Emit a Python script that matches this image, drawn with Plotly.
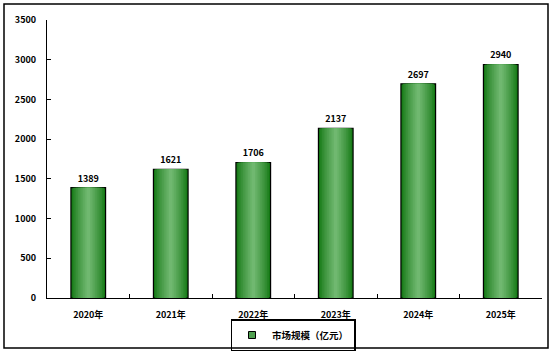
import plotly.graph_objects as go

categories = ["2020年", "2021年", "2022年", "2023年", "2024年", "2025年"]
values = [1389, 1621, 1706, 2137, 2697, 2940]
series_name = "市场规模（亿元）"
y_ticks = [0, 500, 1000, 1500, 2000, 2500, 3000, 3500]

FONT = "Noto Sans CJK SC"
W, H = 554, 354
ML, MR, MT, MB = 47, 12, 20, 56

fig = go.Figure()

full_w = 0.42
layers = 10
dark = (20, 120, 20)
light = (112, 184, 112)
for i in range(layers):
    t = i / (layers - 1)
    c = tuple(int(dark[k] + (light[k] - dark[k]) * (t ** 0.8)) for k in range(3))
    w = full_w * (1 - i / layers)
    outer = i == 0
    fig.add_trace(go.Bar(
        x=categories, y=values, width=w,
        marker=dict(color="rgb(%d,%d,%d)" % c,
                    line=dict(color="black", width=1.2 if outer else 0)),
        name=series_name, showlegend=False,
        text=[str(v) for v in values] if outer else None,
        textposition="outside" if outer else "none",
        textfont=dict(family=FONT, size=9, color="black", weight="bold"),
        cliponaxis=False, hoverinfo="skip",
    ))

fig.add_trace(go.Scatter(
    x=[categories[0]], y=[None], mode="markers", name=series_name,
    marker=dict(symbol="square", size=7, color="rgb(80,160,80)",
                line=dict(color="black", width=1)),
    showlegend=True, hoverinfo="skip",
))

bold9 = dict(family=FONT, size=9, color="black", weight="bold")
fig.update_layout(
    width=W, height=H,
    margin=dict(l=ML, r=MR, t=MT, b=MB, autoexpand=False),
    paper_bgcolor="white", plot_bgcolor="white",
    barmode="overlay",
    font=dict(family=FONT, size=9, color="black"),
    showlegend=True,
    legend=dict(orientation="h", x=0.497, xanchor="center",
                yref="container", y=1 - 335 / H, yanchor="middle",
                bordercolor="black", borderwidth=1.5, bgcolor="rgba(0,0,0,0)",
                font=dict(family=FONT, size=9.5, color="black", weight="bold"),
                itemwidth=30, tracegroupgap=0),
    xaxis=dict(showline=True, linecolor="black", linewidth=1.2,
               ticks="inside", ticklen=4, tickcolor="black", tickson="boundaries",
               tickfont=bold9, showgrid=False, zeroline=False, ticklabelstandoff=8),
    yaxis=dict(range=[0, 3500], tickvals=y_ticks, showline=True, linecolor="black",
               linewidth=1.2, ticks="inside", ticklen=4, tickcolor="black",
               tickfont=bold9, showgrid=False, zeroline=False, ticklabelstandoff=8),
)

pw = W - ML - MR
ph = H - MT - MB
fig.add_shape(type="rect", xref="paper", yref="paper",
              x0=(4 - ML) / pw, x1=(548 - ML) / pw,
              y0=(H - MB - 348) / ph, y1=(H - MB - 4) / ph,
              line=dict(color="black", width=1.5), fillcolor="rgba(0,0,0,0)", layer="below")

fig.write_html("out.html")
